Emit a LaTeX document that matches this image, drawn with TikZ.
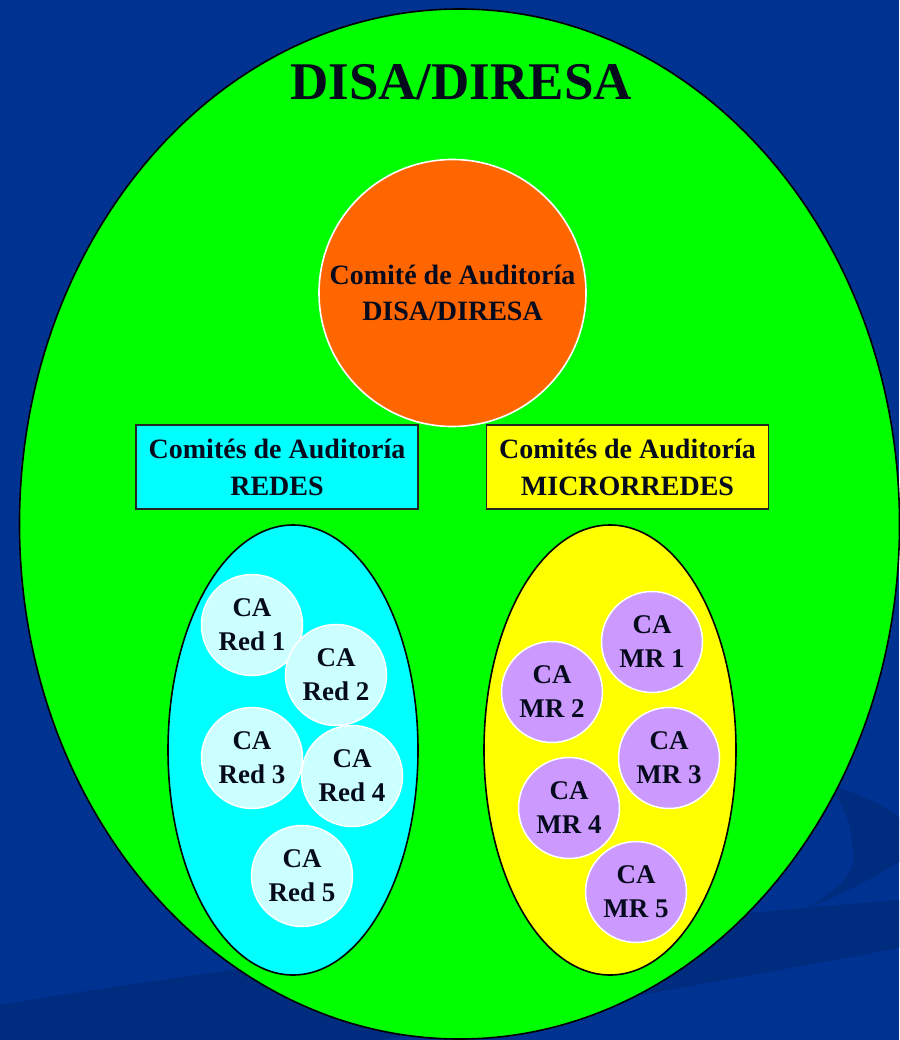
\documentclass[tikz,border=0pt]{standalone}
\usepackage{fontspec}
\setmainfont{Liberation Serif}
\usetikzlibrary{shapes.geometric}
\definecolor{bgblue}{RGB}{0,50,145}
\definecolor{bgdark}{RGB}{0,44,128}
\definecolor{biggreen}{RGB}{0,255,0}
\definecolor{orangec}{RGB}{255,102,0}
\definecolor{cyanc}{RGB}{0,255,255}
\definecolor{yellowc}{RGB}{255,255,0}
\definecolor{lightcyan}{RGB}{204,255,255}
\definecolor{lavender}{RGB}{204,153,255}
\definecolor{txt}{RGB}{5,10,28}
\tikzset{
  region/.style={ellipse, draw=black, line width=1.6pt, inner sep=0pt, outer sep=0pt},
  labelbox/.style={rectangle, draw=black!85, line width=1.6pt, minimum width=282pt, minimum height=84pt,
     inner sep=0pt, align=center, text=txt, font=\bfseries\fontsize{28}{37}\selectfont},
  ca/.style={circle, draw=white, line width=1.5pt, minimum size=101pt, inner sep=0pt, align=center,
     text=txt, font=\bfseries\fontsize{27}{34}\selectfont},
  redc/.style={ca, fill=lightcyan},
  mrc/.style={ca, fill=lavender},
}
\begin{document}
\begin{tikzpicture}[x=1pt,y=-1pt]
\useasboundingbox (0,0) rectangle (899,1040);
\fill[bgblue] (0,0) rectangle (899,1040);
% background swooshes
\fill[bgdark] (0,1005) .. controls (300,955) and (600,925) .. (899,900) -- (899,948)
   .. controls (700,985) and (500,1020) .. (380,1040) -- (0,1040) -- cycle;
\fill[bgdark] (820,782) .. controls (850,790) and (885,805) .. (899,817) -- (899,862)
   .. controls (870,880) and (830,900) .. (803,910)
   .. controls (840,890) and (858,870) .. (853,850)
   .. controls (850,815) and (840,795) .. (820,782) -- cycle;
% main region
\node[region, fill=biggreen, minimum width=880pt, minimum height=1030pt] (disa) at (459.5,524) {};
\node[text=txt, font=\bfseries\fontsize{53}{53}\selectfont] (title) at (461,82) {DISA/DIRESA};
% central committee
\node[circle, fill=orangec, draw=white, line width=1.6pt, minimum size=267pt, inner sep=0pt, align=center,
      text=txt, font=\bfseries\fontsize{28}{36}\selectfont] (cad) at (452.5,293) {Comité de Auditoría\\DISA/DIRESA};
% label boxes
\node[labelbox, fill=cyanc] (redes) at (277,467) {Comités de Auditoría\\REDES};
\node[labelbox, fill=yellowc] (micro) at (627.5,467) {Comités de Auditoría\\MICRORREDES};
% sub regions
\node[region, fill=cyanc, minimum width=250pt, minimum height=450pt] (redreg) at (293,750) {};
\node[region, fill=yellowc, minimum width=252pt, minimum height=450pt] (mrreg) at (610,750) {};
% red circles
\node[redc] (r1) at (252,625) {CA\\Red 1};
\node[redc] (r2) at (336,675) {CA\\Red 2};
\node[redc] (r3) at (252,758) {CA\\Red 3};
\node[redc] (r4) at (352,776) {CA\\Red 4};
\node[redc] (r5) at (302,876) {CA\\Red 5};
% MR circles
\node[mrc] (m1) at (652,642) {CA\\MR 1};
\node[mrc] (m2) at (552,692) {CA\\MR 2};
\node[mrc] (m3) at (669,758) {CA\\MR 3};
\node[mrc] (m4) at (569,808) {CA\\MR 4};
\node[mrc] (m5) at (636,892) {CA\\MR 5};
\end{tikzpicture}
\end{document}
